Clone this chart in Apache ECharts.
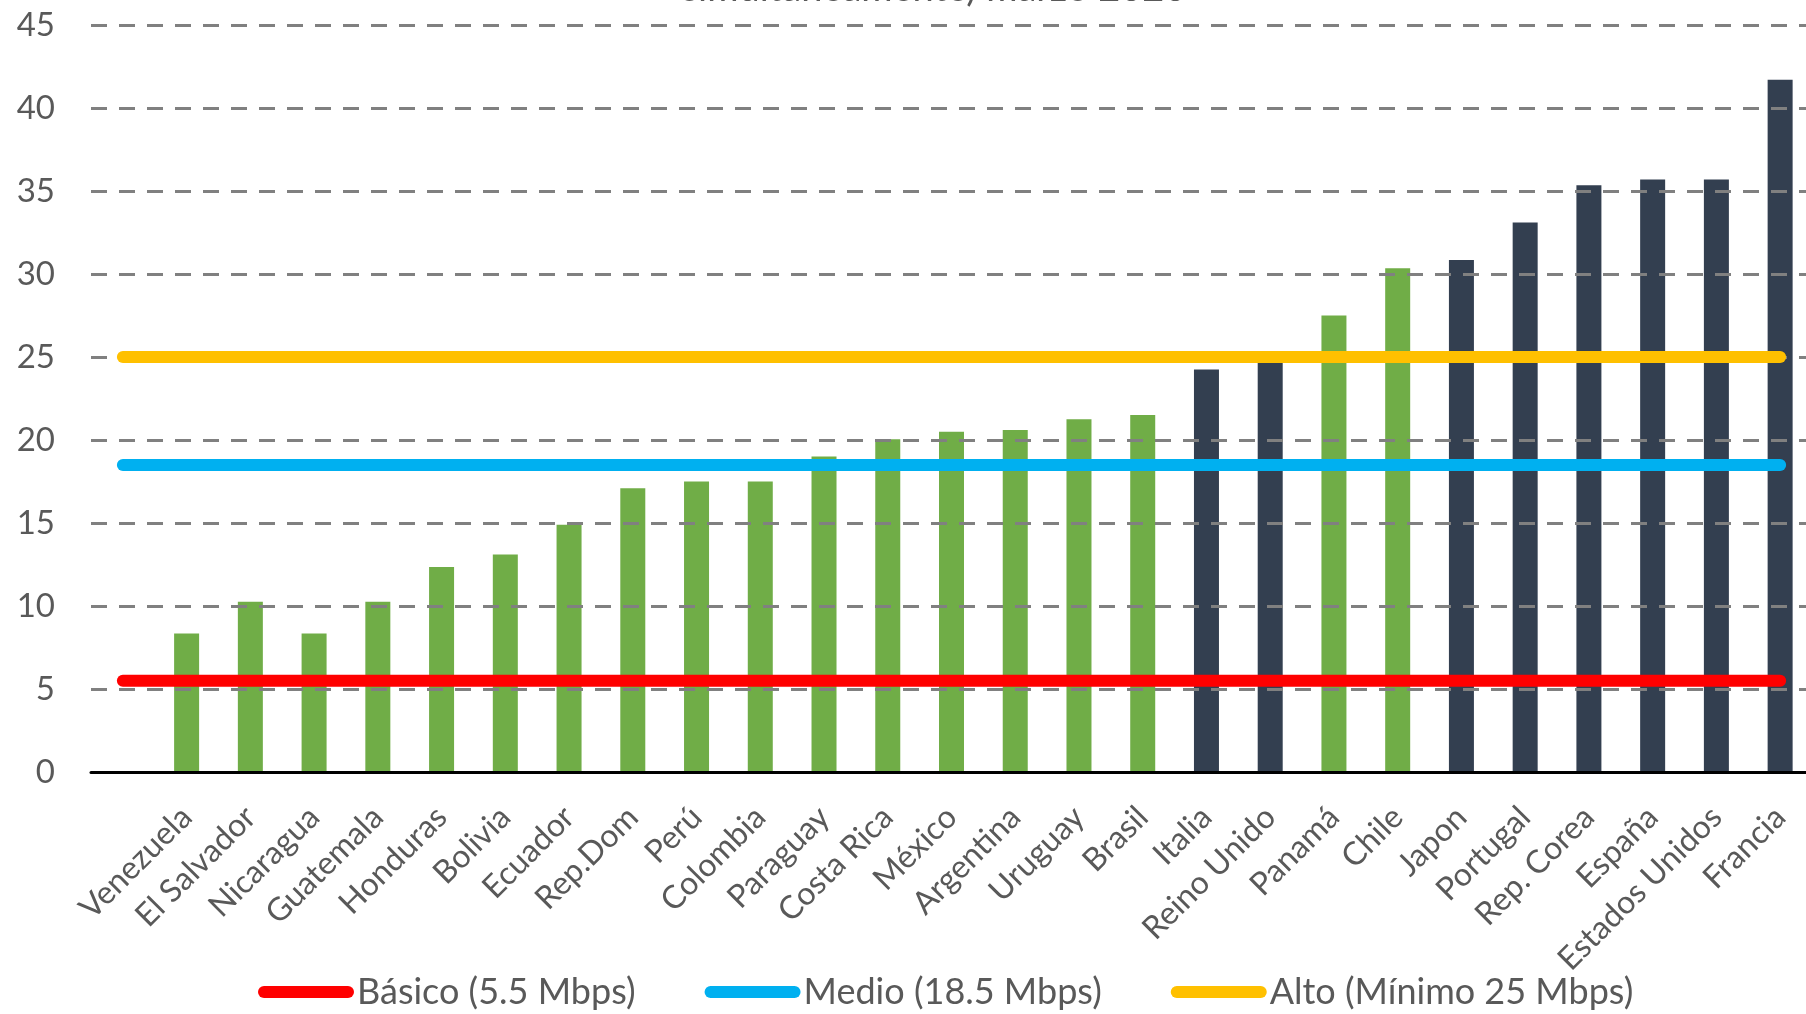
<!DOCTYPE html>
<html>
<head>
<meta charset="utf-8">
<script src="https://cdn.jsdelivr.net/npm/echarts@6/dist/echarts.min.js"></script>
<style>
html,body{margin:0;padding:0;background:#fff;}
#chart{width:1806px;height:1014px;}
</style>
</head>
<body>
<div id="chart"></div>
<script>
const categories = ["", "Venezuela", "El Salvador", "Nicaragua", "Guatemala", "Honduras", "Bolivia", "Ecuador", "Rep.Dom", "Perú", "Colombia", "Paraguay", "Costa Rica", "México", "Argentina", "Uruguay", "Brasil", "Italia", "Reino Unido", "Panamá", "Chile", "Japon", "Portugal", "Rep. Corea", "España", "Estados Unidos", "Francia"];
const velocidad = [null, 8.35, 10.25, 8.35, 10.25, 12.35, 13.1, 14.9, 17.1, 17.5, 17.5, 19.0, 20.05, 20.5, 20.6, 21.25, 21.5, 24.25, 24.65, 27.5, 30.35, 30.85, 33.1, 35.35, 35.7, 35.7, 41.7];
const grupo = ["", "LatAm", "LatAm", "LatAm", "LatAm", "LatAm", "LatAm", "LatAm", "LatAm", "LatAm", "LatAm", "LatAm", "LatAm", "LatAm", "LatAm", "LatAm", "LatAm", "OCDE", "OCDE", "LatAm", "LatAm", "OCDE", "OCDE", "OCDE", "OCDE", "OCDE", "OCDE"];
const umbrales = [
  { nombre: "Básico (5.5 Mbps)", valor: 5.5, color: "#FF0000" },
  { nombre: "Medio (18.5 Mbps)", valor: 18.5, color: "#00B0F0" },
  { nombre: "Alto (Mínimo 25 Mbps)", valor: 25, color: "#FFC000" }
];
const yTicks = { min: 0, max: 45, interval: 5 };
const tituloVisible = "simultáneamente) marzo 2020";

const colores = { LatAm: "#70AD47", OCDE: "#333F50" };
const FONT = "Lato";
const TXT = "#595959";

const chart = echarts.init(document.getElementById('chart'));
const lineSeries = umbrales.map(u => ({
  type: 'line',
  name: u.nombre,
  data: [[categories[0], u.valor], [categories[categories.length - 1], u.valor]],
  symbol: 'none',
  z: 5,
  lineStyle: { color: u.color, width: 12, cap: 'round' },
  itemStyle: { color: u.color },
  silent: true
}));
const pill = 'path://M6,0 H90 A6,6 0 0 1 90,12 H6 A6,6 0 0 1 6,0 Z';

chart.setOption({
  animation: false,
  textStyle: { fontFamily: FONT },
  graphic: [{
    type: 'text',
    x: 934, y: 8,
    style: { text: tituloVisible, font: '38px Lato', fill: TXT, textAlign: 'center', textVerticalAlign: 'bottom' }
  }],
  grid: { left: 91, width: 1721, top: 25, bottom: 242, containLabel: false, outerBoundsMode: 'none' },
  legend: {
    left: 258, top: 974,
    padding: 0,
    itemWidth: 96, itemHeight: 12, itemGap: 69,
    textStyle: { fontSize: 36, color: TXT, fontFamily: FONT, padding: [0, 0, 0, -2] },
    data: umbrales.map(u => ({ name: u.nombre, icon: pill }))
  },
  xAxis: {
    type: 'category',
    data: categories,
    z: 3,
    axisLine: { lineStyle: { color: '#000', width: 3 } },
    axisTick: { show: false },
    axisLabel: { rotate: 45, interval: 0, fontSize: 32, color: TXT, margin: 40, fontFamily: FONT },
    splitLine: { show: false }
  },
  yAxis: {
    type: 'value',
    min: yTicks.min, max: yTicks.max, interval: yTicks.interval,
    z: 3,
    axisLine: { show: false },
    axisTick: { show: false },
    axisLabel: { fontSize: 33, color: TXT, margin: 36, fontFamily: FONT },
    splitLine: { lineStyle: { color: '#808080', width: 3, type: [16, 12] } }
  },
  series: [{
    type: 'bar',
    name: 'Velocidad',
    barWidth: 25,
    z: 2,
    data: velocidad.map((v, i) => ({ value: v, itemStyle: { color: colores[grupo[i]] || '#70AD47' } }))
  }].concat(lineSeries)
});
</script>
</body>
</html>
